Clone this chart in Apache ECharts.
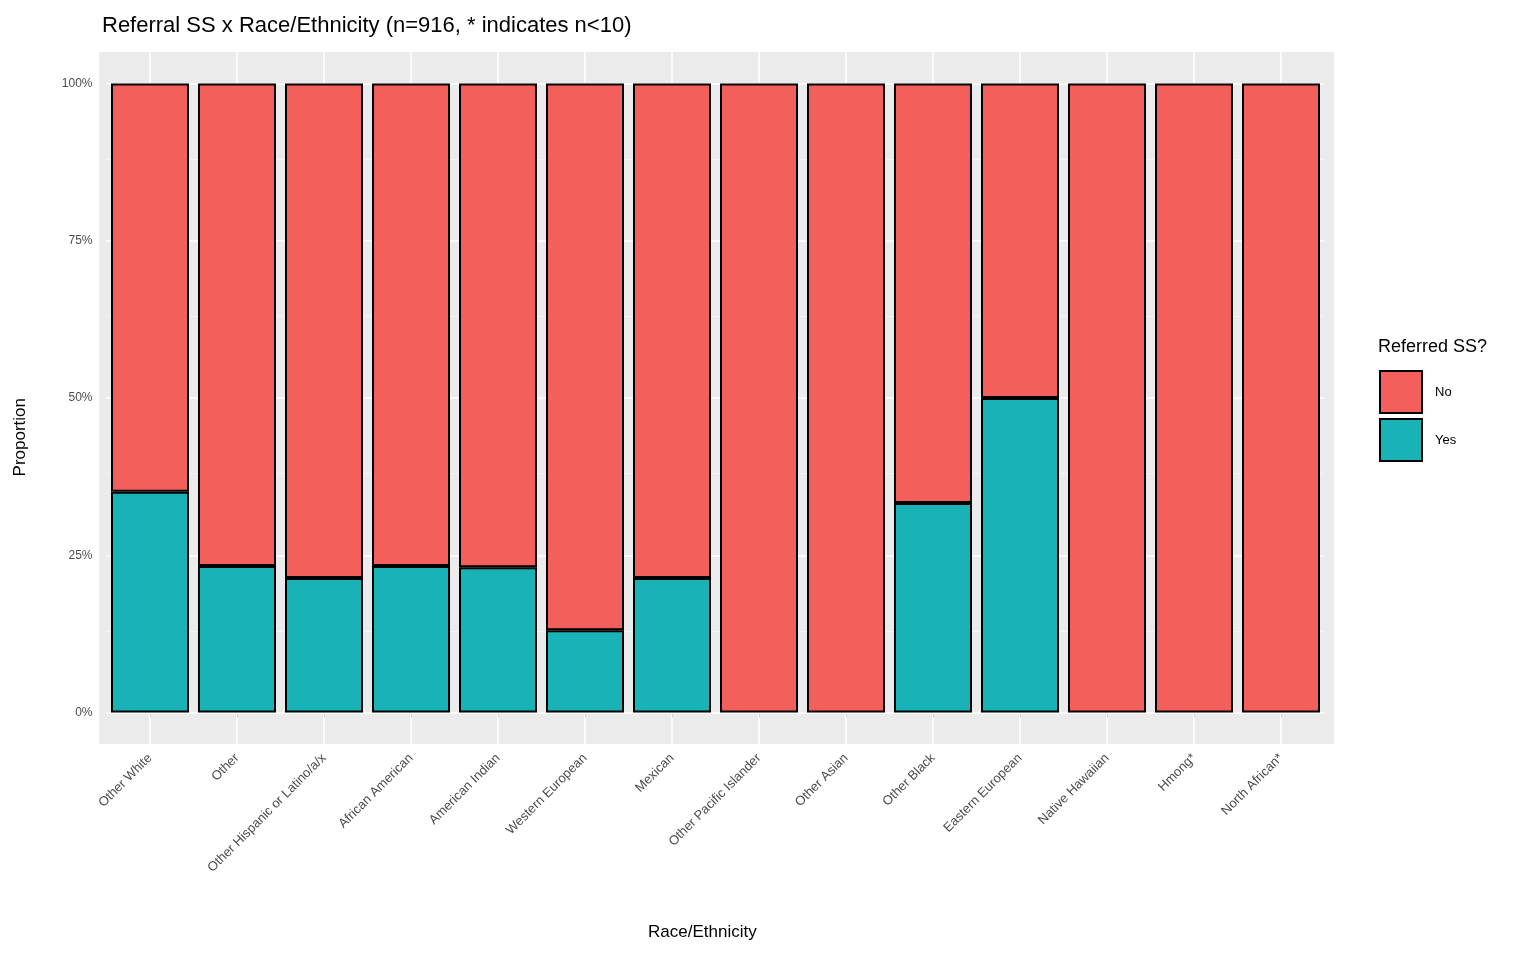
<!DOCTYPE html>
<html>
<head>
<meta charset="UTF-8">
<title>Referral SS x Race/Ethnicity</title>
<script src="https://cdn.jsdelivr.net/npm/echarts@6/dist/echarts.min.js"></script>
<style>
  body { margin: 0; background: #fff; }
  #main { width: 1536px; height: 960px; }
</style>
</head>
<body>
<div id="main"></div>
<script>
// categories and proportions
var categories = ['Other White', 'Other', 'Other Hispanic or Latino/a/x', 'African American',
  'American Indian', 'Western European', 'Mexican', 'Other Pacific Islander', 'Other Asian',
  'Other Black', 'Eastern European', 'Native Hawaiian', 'Hmong*', 'North African*'];
var yesShare = [0.351, 0.233, 0.214, 0.233, 0.231, 0.131, 0.214, 0, 0, 0.333, 0.5, 0, 0, 0];
var noShare  = [0.649, 0.767, 0.786, 0.767, 0.769, 0.869, 0.786, 1, 1, 0.667, 0.5, 1, 1, 1];
var yTicks = [0, 0.25, 0.5, 0.75, 1];
var yMinor = [0.125, 0.375, 0.625, 0.875];

var chart = echarts.init(document.getElementById('main'));

// empty segments get no bar (so no stray border line)
function skipZero(arr) { return arr.map(function (v) { return v === 0 ? '-' : v; }); }

var gridLines = yTicks.map(function (v) {
  return { yAxis: v, lineStyle: { width: 1.6, color: '#fff', type: 'solid' },
    label: { show: true, position: 'start', formatter: Math.round(v * 100) + '%',
      color: '#4d4d4d', fontSize: 12, distance: 14 } };
}).concat(yMinor.map(function (v) {
  return { yAxis: v, lineStyle: { width: 0.8, color: '#f6f6f6', type: 'solid' }, label: { show: false } };
})).concat(categories.map(function (c) {
  return { xAxis: c, lineStyle: { width: 1.6, color: '#fff', type: 'solid' }, label: { show: false } };
}));

chart.setOption({
  animation: false,
  textStyle: { fontFamily: 'Liberation Sans, Arial, sans-serif' },
  title: {
    text: 'Referral SS x Race/Ethnicity (n=916, * indicates n<10)',
    left: 97, top: 10,
    textStyle: { fontSize: 22, fontWeight: 'normal', color: '#000' }
  },
  graphic: [
    { type: 'rect', z: -10, shape: { x: 99, y: 52, width: 1235, height: 692 }, style: { fill: '#ebebeb' } },
    { type: 'text', left: 1378, top: 338, style: { text: 'Referred SS?', fontSize: 18, fill: '#000' } },
    { type: 'text', left: 12, top: 398, rotation: Math.PI / 2,
      style: { text: 'Proportion', fontSize: 17, fill: '#000', textAlign: 'center' } },
    { type: 'text', left: 648, top: 924, style: { text: 'Race/Ethnicity', fontSize: 17, fill: '#000' } }
  ],
  legend: {
    data: ['No', 'Yes'], orient: 'vertical', left: 1374, top: 365,
    icon: 'rect', itemWidth: 42, itemHeight: 42, itemGap: 4,
    textStyle: { fontSize: 13, color: '#000', padding: [0, 0, 0, 8] }
  },
  grid: { left: 106.5, width: 1218, top: 52, height: 692 },
  xAxis: {
    type: 'category', data: categories,
    axisLine: { show: false },
    axisTick: { show: true, alignWithLabel: true, length: 5, lineStyle: { color: '#333' } },
    axisLabel: { rotate: 45, fontSize: 13, color: '#4d4d4d', interval: 0, margin: 12 },
    splitLine: { show: false }
  },
  yAxis: {
    type: 'value', min: -0.05, max: 1.05,
    axisLabel: { show: false }, axisLine: { show: false }, axisTick: { show: false },
    splitLine: { show: false }
  },
  series: [
    { name: 'Yes', type: 'bar', stack: 's', data: skipZero(yesShare), barWidth: 78, z: 3,
      itemStyle: { color: '#19B2B6', borderColor: '#000', borderWidth: 2 },
      markLine: { silent: true, symbol: 'none', z: 1, data: gridLines } },
    { name: 'No', type: 'bar', stack: 's', data: skipZero(noShare), barWidth: 78, z: 3,
      itemStyle: { color: '#F35F5B', borderColor: '#000', borderWidth: 2 } }
  ]
});
</script>
</body>
</html>
